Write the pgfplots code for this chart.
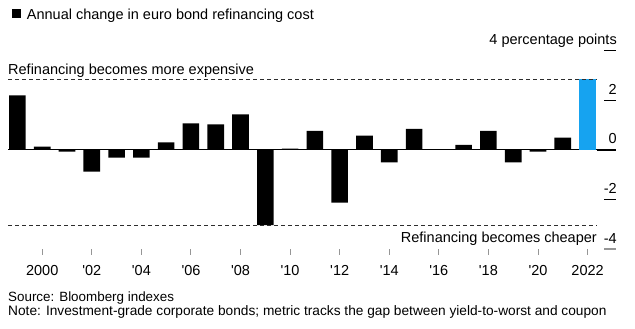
\documentclass[border=0pt]{standalone}
\usepackage{fontspec}
\setmainfont{Liberation Sans}
\usepackage{pgfplots}
\pgfplotsset{compat=1.18}
\definecolor{barblue}{RGB}{22,163,240}
\definecolor{dashgray}{RGB}{45,45,45}
\definecolor{tickgray}{RGB}{150,150,150}
\begin{document}
\fontsize{14.5bp}{17bp}\selectfont
\begin{tikzpicture}
\path[use as bounding box] (0bp,0bp) rectangle (635bp,329bp);
% title
\fill (12bp,310.7bp) rectangle (21bp,319.7bp);
\node[anchor=base west, inner sep=0pt] at (26.7bp,309.5bp) {Annual change in euro bond refinancing cost};
% source and note
\node[anchor=base west, inner sep=0pt, font=\fontsize{13.4bp}{15bp}\selectfont] at (8bp,28bp) {Source: Bloomberg indexes};
\node[anchor=base west, inner sep=0pt, font=\fontsize{13.7bp}{15bp}\selectfont] at (8bp,13.5bp) {Note: Investment-grade corporate bonds; metric tracks the gap between yield-to-worst and coupon};
\begin{axis}[
  at={(8bp,80bp)}, anchor=south west,
  scale only axis, width=589bp, height=198.3bp,
  xmin=-0.38, xmax=23.38, ymin=-4, ymax=4,
  axis line style={draw=none},
  clip=false,
  tick align=outside,
  major tick length=6bp,
  xtick pos=bottom, ytick pos=right,
  xtick={1,3,...,23},
  xticklabels={2000,\textquotesingle02,\textquotesingle04,\textquotesingle06,\textquotesingle08,\textquotesingle10,\textquotesingle12,\textquotesingle14,\textquotesingle16,\textquotesingle18,\textquotesingle20,2022},
  ytick={-4,-2,0,2,4},
  yticklabels={-4,-2,0,2,4 percentage points},
  yticklabel pos=right,
  tick label style={font=\fontsize{14.5bp}{17bp}\selectfont},
  xtick style={tickgray, line width=1bp},
  ytick style={draw=none},
  xticklabel style={anchor=base, inner sep=0pt, yshift=-20bp},
  yticklabel style={anchor=base east, inner sep=0pt, xshift=14bp, yshift=6bp},
]
% zero line
\addplot[black, line width=1.2bp] coordinates {(-0.38,0) (23.38,0)};
% bars (x = year - 1999)
\addplot[ybar, bar width=16.6bp, bar shift=0pt, fill=black, draw=none] coordinates {
(0,2.20) (1,0.13) (2,-0.07) (3,-0.88) (4,-0.31) (5,-0.31)
(6,0.30) (7,1.07) (8,1.03) (9,1.43) (10,-3.04) (11,0.05)
(12,0.77) (13,-2.13) (14,0.57) (15,-0.51) (16,0.85) (17,0.02)
(18,0.20) (19,0.77) (20,-0.51) (21,-0.07) (22,0.49)
};
\addplot[ybar, bar width=16.6bp, bar shift=0pt, fill=barblue, draw=none] coordinates {(23,2.84)};
% reference lines at the extremes
\addplot[dashgray, line width=1.4bp, dash pattern=on 4bp off 3bp] coordinates {(-0.38,2.84) (23.38,2.84)};
\addplot[dashgray, line width=1.4bp, dash pattern=on 4bp off 3bp] coordinates {(-0.38,-3.04) (23.38,-3.04)};
\node[anchor=base west, inner sep=0pt] at ([yshift=5bp]axis cs:-0.38,2.84) {Refinancing becomes more expensive};
\node[anchor=base east, inner sep=0pt] at ([yshift=-17bp]axis cs:23.38,-3.04) {Refinancing becomes cheaper};
\coordinate (r4) at (axis cs:23.38,4);
\coordinate (r2) at (axis cs:23.38,2);
\coordinate (r0) at (axis cs:23.38,0);
\coordinate (rm2) at (axis cs:23.38,-2);
\coordinate (rm4) at (axis cs:23.38,-4);
\end{axis}
% y tick dashes right of the plot
\draw[black, line width=1.5bp] (r0) -- ([xshift=19bp]r0);
\draw[black, line width=1.5bp] ([xshift=7bp]r4) -- ([xshift=19bp]r4);
\draw[black, line width=1.5bp] ([xshift=7bp]r2) -- ([xshift=19bp]r2);
\draw[black, line width=1.5bp] ([xshift=7bp]rm2) -- ([xshift=19bp]rm2);
\draw[tickgray, line width=1.5bp] ([xshift=7bp]rm4) -- ([xshift=19bp]rm4);
\end{tikzpicture}
\end{document}
